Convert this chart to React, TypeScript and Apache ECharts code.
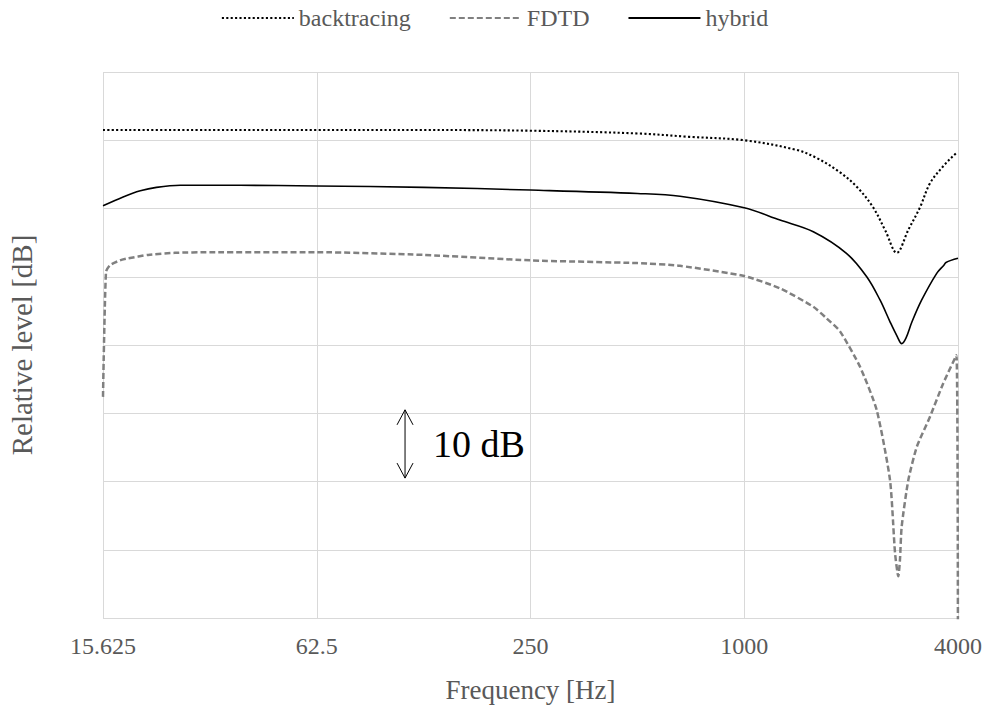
import React, { useEffect, useRef } from "react";
import * as echarts from "echarts";

// Octave-band axis: ticks every factor of 4 starting at 15.625 Hz
const tickLabels = ["15.625", "62.5", "250", "1000", "4000"];
const baseFreq = 15.625;

// backtracing (dotted)
const backtracingFreq = [15.625, 31.25, 62.5, 125, 250, 500, 700, 1000, 1400, 1600, 1861, 2073, 2305, 2500, 2688, 2900, 3128, 3336, 3650, 3950, 4000];
const backtracingLevel = [-8.5, -8.5, -8.5, -8.5, -8.6, -9.0, -9.5, -10.0, -11.4, -12.6, -14.7, -16.8, -19.8, -23.3, -26.5, -23.1, -19.8, -16.3, -13.7, -11.9, -11.8];

// FDTD (dashed)
const fdtdFreq = [15.625, 15.93, 16.35, 17.45, 18.4, 20.95, 24.9, 31.25, 62.5, 125, 250, 500, 659, 1000, 1261, 1565, 1706, 1861, 2119, 2360, 2574, 2659, 2716, 2745, 2776, 2898, 3063, 3336, 3636, 3960, 4000];
const fdtdLevel = [-47.6, -29.3, -28.3, -27.6, -27.3, -26.8, -26.5, -26.4, -26.4, -26.8, -27.6, -28.0, -28.4, -29.9, -31.7, -34.4, -36.1, -38.0, -43.2, -49.5, -59.8, -70.5, -73.9, -71.5, -66.6, -59.8, -54.9, -50.5, -45.6, -41.5, -100];

// hybrid (solid)
const hybridFreq = [15.625, 17.8, 19.9, 22.1, 25.8, 38, 62.5, 125, 250, 500, 659, 1000, 1261, 1565, 1944, 2213, 2412, 2574, 2700, 2776, 2854, 2968, 3161, 3484, 3650, 3700, 4000];
const hybridLevel = [-19.6, -18.3, -17.4, -16.9, -16.6, -16.6, -16.7, -16.9, -17.3, -17.8, -18.2, -19.9, -21.7, -23.4, -26.6, -30.0, -33.4, -36.6, -38.8, -39.8, -39.0, -36.6, -33.4, -29.5, -28.3, -27.9, -27.3];

// 10 dB scale marker, in data units
const markerFreq = 110.8;
const markerTop = -49.5;
const markerBottom = -59.5;

const FONT = "'Liberation Serif', 'Times New Roman', serif";
const TEXT_GRAY = "#595959";

const toAxis = (f: number) => Math.log(f / baseFreq) / Math.log(4);
const pairs = (fs: number[], vs: number[]) => fs.map((f, i) => [toAxis(f), vs[i]]);

export default function App() {
  const ref = useRef<HTMLDivElement>(null);

  useEffect(() => {
    if (!ref.current) return;
    const chart = echarts.init(ref.current, undefined, { renderer: "svg" });

    chart.setOption({
      animation: false,
      backgroundColor: "#ffffff",
      textStyle: { fontFamily: FONT },
      legend: {
        top: 1,
        left: "center",
        itemWidth: 72,
        itemHeight: 14,
        itemGap: 38,
        itemStyle: { opacity: 0 },
        textStyle: { color: TEXT_GRAY, fontSize: 24, fontFamily: FONT },
        data: ["backtracing", "FDTD", "hybrid"],
      },
      grid: {
        left: 103,
        right: 31,
        top: 72,
        bottom: 88,
        containLabel: false,
        outerBoundsMode: "none",
      },
      xAxis: {
        type: "value",
        min: 0,
        max: 4,
        interval: 1,
        name: "Frequency [Hz]",
        nameLocation: "middle",
        nameGap: 58,
        nameTextStyle: { color: TEXT_GRAY, fontSize: 27, fontFamily: FONT },
        axisLine: { show: false },
        axisTick: { show: false },
        axisLabel: {
          color: TEXT_GRAY,
          fontSize: 24,
          fontFamily: FONT,
          margin: 16,
          formatter: (v: number) => tickLabels[Math.round(v)] ?? "",
        },
        splitLine: { show: true, lineStyle: { color: "#d9d9d9", width: 1 } },
      },
      yAxis: {
        type: "value",
        min: -80,
        max: 0,
        interval: 10,
        name: "Relative level [dB]",
        nameLocation: "middle",
        nameGap: 67,
        nameTextStyle: { color: TEXT_GRAY, fontSize: 29, fontFamily: FONT },
        axisLine: { show: false },
        axisTick: { show: false },
        axisLabel: { show: false },
        splitLine: { show: true, lineStyle: { color: "#d9d9d9", width: 1 } },
      },
      series: [
        {
          name: "FDTD",
          type: "line",
          data: pairs(fdtdFreq, fdtdLevel),
          symbol: "none",
          smooth: 0.2,
          color: "#808080",
          lineStyle: { color: "#808080", width: 2.5, type: [6, 3] },
          z: 2,
        },
        {
          name: "hybrid",
          type: "line",
          data: pairs(hybridFreq, hybridLevel),
          symbol: "none",
          smooth: 0.35,
          color: "#000000",
          lineStyle: { color: "#000000", width: 1.6, type: "solid" },
          z: 3,
        },
        {
          name: "backtracing",
          type: "line",
          data: pairs(backtracingFreq, backtracingLevel),
          symbol: "none",
          smooth: 0.35,
          color: "#000000",
          lineStyle: { color: "#000000", width: 2.1, type: [2.1, 2.3] },
          z: 4,
        },
      ],
    });

    // 10 dB scale arrow, placed through the grid's own coordinate system
    const top = chart.convertToPixel({ gridIndex: 0 }, [toAxis(markerFreq), markerTop]) as number[];
    const bottom = chart.convertToPixel({ gridIndex: 0 }, [toAxis(markerFreq), markerBottom]) as number[];
    const ax = top[0];
    const head = 15;
    const half = 8;
    const stroke = { stroke: "#000000", lineWidth: 1, fill: "none" };
    chart.setOption({
      graphic: [
        { type: "line", shape: { x1: ax, y1: top[1], x2: ax, y2: bottom[1] }, style: stroke, z: 10 },
        {
          type: "polyline",
          shape: { points: [[ax - half, top[1] + head], [ax, top[1]], [ax + half, top[1] + head]] },
          style: stroke,
          z: 10,
        },
        {
          type: "polyline",
          shape: { points: [[ax - half, bottom[1] - head], [ax, bottom[1]], [ax + half, bottom[1] - head]] },
          style: stroke,
          z: 10,
        },
        {
          type: "text",
          x: ax + 28,
          y: (top[1] + bottom[1]) / 2,
          style: {
            text: "10 dB",
            fill: "#000000",
            font: `38px ${FONT}`,
            textAlign: "left",
            textVerticalAlign: "middle",
          },
          z: 10,
        },
      ],
    });

    return () => chart.dispose();
  }, []);

  return (
    <div
      ref={ref}
      style={{ position: "absolute", left: 0, top: 0, width: 989, height: 706 }}
    />
  );
}
